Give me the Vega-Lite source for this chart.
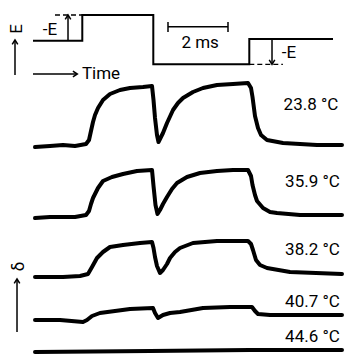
{
  "$schema": "https://vega.github.io/schema/vega-lite/v6.json",
  "width": 344,
  "height": 357,
  "padding": 0,
  "autosize": {"type": "fit", "contains": "padding"},
  "background": "white",
  "config": {"view": {"stroke": null}},
  "datasets": {
    "wave": [
      {"i": 0, "t": 0, "v": 316.3},
      {"i": 1, "t": 1.643, "v": 316.3},
      {"i": 2, "t": 1.643, "v": 342},
      {"i": 3, "t": 4.01, "v": 342},
      {"i": 4, "t": 4.01, "v": 292.7},
      {"i": 5, "t": 7.21, "v": 292.7},
      {"i": 6, "t": 7.21, "v": 318},
      {"i": 7, "t": 10.0, "v": 318}
    ],
    "traces": [
      {"temp": "23.8", "t": 0.067, "v": 210}, {"temp": "23.8", "t": 0.567, "v": 211}, {"temp": "23.8", "t": 1.0, "v": 212}, {"temp": "23.8", "t": 1.4, "v": 211}, {"temp": "23.8", "t": 1.767, "v": 213}, {"temp": "23.8", "t": 1.867, "v": 217}, {"temp": "23.8", "t": 1.933, "v": 226}, {"temp": "23.8", "t": 2.0, "v": 235}, {"temp": "23.8", "t": 2.067, "v": 242}, {"temp": "23.8", "t": 2.167, "v": 249}, {"temp": "23.8", "t": 2.333, "v": 257}, {"temp": "23.8", "t": 2.567, "v": 263}, {"temp": "23.8", "t": 2.9, "v": 267}, {"temp": "23.8", "t": 3.233, "v": 269}, {"temp": "23.8", "t": 3.667, "v": 270}, {"temp": "23.8", "t": 3.967, "v": 271}, {"temp": "23.8", "t": 4.017, "v": 257}, {"temp": "23.8", "t": 4.067, "v": 239}, {"temp": "23.8", "t": 4.133, "v": 222}, {"temp": "23.8", "t": 4.183, "v": 215}, {"temp": "23.8", "t": 4.333, "v": 224}, {"temp": "23.8", "t": 4.467, "v": 234}, {"temp": "23.8", "t": 4.667, "v": 247}, {"temp": "23.8", "t": 4.833, "v": 254}, {"temp": "23.8", "t": 5.0, "v": 259}, {"temp": "23.8", "t": 5.333, "v": 265}, {"temp": "23.8", "t": 5.667, "v": 269}, {"temp": "23.8", "t": 6.133, "v": 272}, {"temp": "23.8", "t": 6.667, "v": 273}, {"temp": "23.8", "t": 7.167, "v": 274}, {"temp": "23.8", "t": 7.267, "v": 269}, {"temp": "23.8", "t": 7.317, "v": 260}, {"temp": "23.8", "t": 7.4, "v": 241}, {"temp": "23.8", "t": 7.5, "v": 229}, {"temp": "23.8", "t": 7.6, "v": 222}, {"temp": "23.8", "t": 7.8, "v": 217}, {"temp": "23.8", "t": 8.333, "v": 214}, {"temp": "23.8", "t": 8.9, "v": 213}, {"temp": "23.8", "t": 9.467, "v": 212}, {"temp": "23.8", "t": 10.3, "v": 212},
      {"temp": "35.9", "t": 0.067, "v": 139}, {"temp": "35.9", "t": 0.567, "v": 140}, {"temp": "35.9", "t": 1.0, "v": 140}, {"temp": "35.9", "t": 1.4, "v": 140}, {"temp": "35.9", "t": 1.767, "v": 142}, {"temp": "35.9", "t": 1.867, "v": 146}, {"temp": "35.9", "t": 1.933, "v": 153}, {"temp": "35.9", "t": 2.0, "v": 159}, {"temp": "35.9", "t": 2.167, "v": 169}, {"temp": "35.9", "t": 2.333, "v": 176}, {"temp": "35.9", "t": 2.633, "v": 180}, {"temp": "35.9", "t": 3.0, "v": 183}, {"temp": "35.9", "t": 3.467, "v": 186}, {"temp": "35.9", "t": 3.967, "v": 187}, {"temp": "35.9", "t": 4.017, "v": 171}, {"temp": "35.9", "t": 4.083, "v": 152}, {"temp": "35.9", "t": 4.15, "v": 143}, {"temp": "35.9", "t": 4.233, "v": 147}, {"temp": "35.9", "t": 4.333, "v": 153}, {"temp": "35.9", "t": 4.467, "v": 160}, {"temp": "35.9", "t": 4.633, "v": 168}, {"temp": "35.9", "t": 4.8, "v": 174}, {"temp": "35.9", "t": 5.133, "v": 180}, {"temp": "35.9", "t": 5.567, "v": 184}, {"temp": "35.9", "t": 6.133, "v": 186}, {"temp": "35.9", "t": 6.667, "v": 187}, {"temp": "35.9", "t": 7.167, "v": 187}, {"temp": "35.9", "t": 7.267, "v": 181}, {"temp": "35.9", "t": 7.317, "v": 172}, {"temp": "35.9", "t": 7.4, "v": 162}, {"temp": "35.9", "t": 7.467, "v": 156}, {"temp": "35.9", "t": 7.667, "v": 149}, {"temp": "35.9", "t": 7.9, "v": 145}, {"temp": "35.9", "t": 8.133, "v": 144}, {"temp": "35.9", "t": 8.9, "v": 142}, {"temp": "35.9", "t": 10.3, "v": 142},
      {"temp": "38.2", "t": 0.067, "v": 80}, {"temp": "38.2", "t": 1.0, "v": 80}, {"temp": "38.2", "t": 1.567, "v": 81}, {"temp": "38.2", "t": 1.833, "v": 83}, {"temp": "38.2", "t": 1.967, "v": 90}, {"temp": "38.2", "t": 2.133, "v": 99}, {"temp": "38.2", "t": 2.333, "v": 105}, {"temp": "38.2", "t": 2.567, "v": 110}, {"temp": "38.2", "t": 3.0, "v": 112}, {"temp": "38.2", "t": 3.567, "v": 114}, {"temp": "38.2", "t": 3.967, "v": 115}, {"temp": "38.2", "t": 4.017, "v": 109}, {"temp": "38.2", "t": 4.067, "v": 100}, {"temp": "38.2", "t": 4.133, "v": 91}, {"temp": "38.2", "t": 4.233, "v": 84}, {"temp": "38.2", "t": 4.333, "v": 87}, {"temp": "38.2", "t": 4.467, "v": 93}, {"temp": "38.2", "t": 4.567, "v": 99}, {"temp": "38.2", "t": 4.733, "v": 105}, {"temp": "38.2", "t": 4.9, "v": 109}, {"temp": "38.2", "t": 5.333, "v": 114}, {"temp": "38.2", "t": 6.133, "v": 116}, {"temp": "38.2", "t": 7.167, "v": 116}, {"temp": "38.2", "t": 7.267, "v": 113}, {"temp": "38.2", "t": 7.333, "v": 107}, {"temp": "38.2", "t": 7.433, "v": 97}, {"temp": "38.2", "t": 7.567, "v": 92}, {"temp": "38.2", "t": 7.8, "v": 89}, {"temp": "38.2", "t": 8.567, "v": 85}, {"temp": "38.2", "t": 10.3, "v": 83},
      {"temp": "40.7", "t": 0.067, "v": 37}, {"temp": "40.7", "t": 0.9, "v": 37}, {"temp": "40.7", "t": 1.667, "v": 35}, {"temp": "40.7", "t": 1.8, "v": 37}, {"temp": "40.7", "t": 1.967, "v": 41}, {"temp": "40.7", "t": 2.233, "v": 44}, {"temp": "40.7", "t": 2.733, "v": 46}, {"temp": "40.7", "t": 3.233, "v": 48}, {"temp": "40.7", "t": 4.0, "v": 49}, {"temp": "40.7", "t": 4.067, "v": 44}, {"temp": "40.7", "t": 4.167, "v": 39}, {"temp": "40.7", "t": 4.333, "v": 42}, {"temp": "40.7", "t": 4.567, "v": 44}, {"temp": "40.7", "t": 4.9, "v": 45}, {"temp": "40.7", "t": 5.667, "v": 49}, {"temp": "40.7", "t": 6.567, "v": 50}, {"temp": "40.7", "t": 7.3, "v": 50}, {"temp": "40.7", "t": 7.4, "v": 46}, {"temp": "40.7", "t": 7.5, "v": 43}, {"temp": "40.7", "t": 7.9, "v": 42}, {"temp": "40.7", "t": 8.9, "v": 42}, {"temp": "40.7", "t": 10.3, "v": 42},
      {"temp": "44.6", "t": 0.067, "v": 5}, {"temp": "44.6", "t": 3.9, "v": 6}, {"temp": "44.6", "t": 7.233, "v": 7}, {"temp": "44.6", "t": 10.3, "v": 7}
    ],
    "dashes": [
      {"t": 0.733, "t2": 1.643, "v": 342},
      {"t": 7.21, "t2": 8.33, "v": 292.7}
    ],
    "vrules": [
      {"t": -0.6, "v": 282, "v2": 316},
      {"t": 1.167, "v": 316.3, "v2": 341},
      {"t": 7.967, "v": 318, "v2": 294},
      {"t": -0.533, "v": 25, "v2": 77},
      {"t": 4.5, "v": 325, "v2": 335},
      {"t": 6.5, "v": 325, "v2": 335}
    ],
    "hrules": [
      {"t": 4.5, "t2": 6.5, "v": 330.3},
      {"t": 0, "t2": 1.45, "v": 283}
    ],
    "heads": [
      {"t": -0.6, "v": 317, "dir": "up"},
      {"t": 1.167, "v": 342, "dir": "up"},
      {"t": 7.967, "v": 292.7, "dir": "down"},
      {"t": -0.533, "v": 78, "dir": "up"},
      {"t": 1.477, "v": 283, "dir": "right"}
    ],
    "labels": [
      {"t": 0.567, "v": 327, "label": "-E"},
      {"t": 8.53, "v": 304, "label": "-E"},
      {"t": 5.57, "v": 314, "label": "2 ms"},
      {"t": 2.267, "v": 283, "label": "Time"},
      {"t": 9.267, "v": 252.5, "label": "23.8 °C"},
      {"t": 9.317, "v": 175, "label": "35.9 °C"},
      {"t": 9.317, "v": 107, "label": "38.2 °C"},
      {"t": 9.317, "v": 55.5, "label": "40.7 °C"},
      {"t": 9.317, "v": 20.5, "label": "44.6 °C"}
    ],
    "vlabels": [
      {"t": -0.533, "v": 328, "label": "E"},
      {"t": -0.467, "v": 90.5, "label": "δ"}
    ]
  },
  "encoding": {
    "x": {"field": "t", "type": "quantitative", "axis": null, "scale": {"domain": [-1.1, 10.3667], "nice": false, "zero": false}},
    "y": {"field": "v", "type": "quantitative", "axis": null, "scale": {"domain": [0, 357], "nice": false, "zero": false}}
  },
  "layer": [
    {
      "data": {"name": "traces"},
      "mark": {"type": "line", "color": "black", "strokeWidth": 4, "strokeJoin": "round", "strokeCap": "round"},
      "encoding": {"detail": {"field": "temp"}}
    },
    {
      "data": {"name": "wave"},
      "mark": {"type": "line", "color": "black", "strokeWidth": 2, "strokeJoin": "miter"},
      "encoding": {"order": {"field": "i", "type": "quantitative"}}
    },
    {
      "data": {"name": "dashes"},
      "mark": {"type": "rule", "color": "black", "strokeWidth": 1.3, "strokeDash": [5, 3]},
      "encoding": {"x2": {"field": "t2"}}
    },
    {
      "data": {"name": "vrules"},
      "mark": {"type": "rule", "color": "black", "strokeWidth": 1.5},
      "encoding": {"y2": {"field": "v2"}}
    },
    {
      "data": {"name": "hrules"},
      "mark": {"type": "rule", "color": "black", "strokeWidth": 1.5},
      "encoding": {"x2": {"field": "t2"}}
    },
    {
      "data": {"name": "heads"},
      "mark": {"type": "point", "filled": false, "color": "black", "strokeWidth": 1.5, "size": 64, "opacity": 1},
      "encoding": {
        "shape": {"field": "dir", "type": "nominal", "legend": null, "scale": {"domain": ["up", "down", "right"], "range": ["M-0.7,1.1L0,0L0.7,1.1", "M-0.7,-1.1L0,0L0.7,-1.1", "M-1.1,-0.7L0,0L-1.1,0.7"]}}
      }
    },
    {
      "data": {"name": "labels"},
      "mark": {"type": "text", "color": "black", "font": "Roboto", "fontSize": 17, "fontWeight": "normal", "align": "center", "baseline": "middle"},
      "encoding": {"text": {"field": "label"}}
    },
    {
      "data": {"name": "vlabels"},
      "mark": {"type": "text", "color": "black", "font": "Roboto", "fontSize": 17, "fontWeight": "normal", "align": "center", "baseline": "middle", "angle": 270},
      "encoding": {"text": {"field": "label"}}
    }
  ]
}
